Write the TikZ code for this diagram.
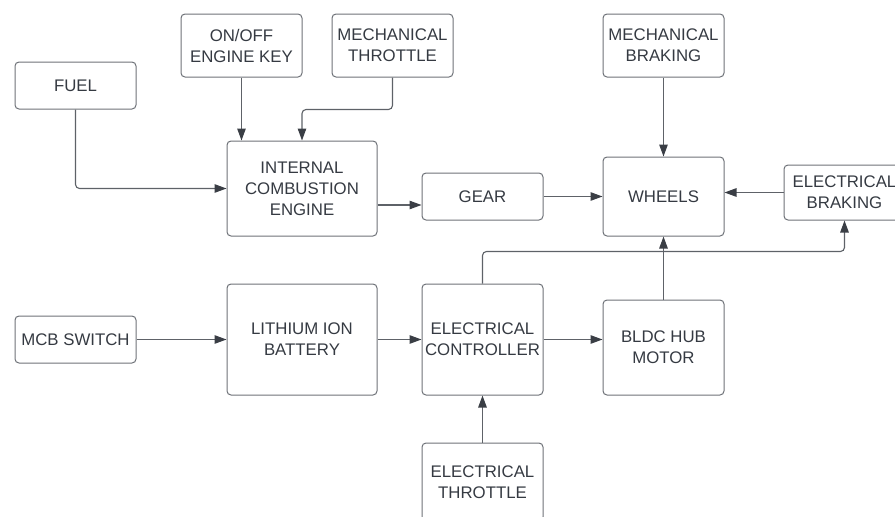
\documentclass[tikz,border=0pt]{standalone}
\usepackage{fontspec}
\setmainfont{Liberation Sans}
\usetikzlibrary{arrows.meta}
\definecolor{boxline}{HTML}{6E7278}
\definecolor{wire}{HTML}{5E6268}
\definecolor{tipc}{HTML}{3A3E45}
\definecolor{txt}{HTML}{353A42}
\tikzset{
  blk/.style={draw=boxline, line width=1pt, rounded corners=4pt, align=center,
    text=txt, inner sep=0pt, font=\fontsize{16.8}{21}\selectfont},
  arr/.style={draw=wire, line width=1.1pt, rounded corners=4pt,
    -{Triangle[length=12pt,width=8.5pt,color=tipc]}}
}
\begin{document}
\begin{tikzpicture}[x=1pt,y=-1pt]
\useasboundingbox (0,0) rectangle (895,517);
\node[blk, minimum width=121pt, minimum height=47pt] (fuel) at (75.5,85.5) {FUEL};
\node[blk, minimum width=121pt, minimum height=63pt] (onoff) at (241.5,45.5) {ON/OFF\\ENGINE KEY};
\node[blk, minimum width=121pt, minimum height=63pt] (mthr) at (392.5,45.5) {MECHANICAL\\THROTTLE};
\node[blk, minimum width=150pt, minimum height=95pt] (ice) at (302,188.5) {INTERNAL\\COMBUSTION\\ENGINE};
\node[blk, minimum width=121pt, minimum height=47pt] (gear) at (482.5,196.5) {GEAR};
\node[blk, minimum width=121pt, minimum height=79pt] (wheels) at (663.5,196.5) {WHEELS};
\node[blk, minimum width=121pt, minimum height=63pt] (mbrk) at (663.5,45.5) {MECHANICAL\\BRAKING};
\node[blk, minimum width=121pt, minimum height=55pt] (ebrk) at (844.5,192.5) {ELECTRICAL\\BRAKING};
\node[blk, minimum width=121pt, minimum height=47pt] (mcb) at (75.5,339.5) {MCB SWITCH};
\node[blk, minimum width=150pt, minimum height=111pt] (bat) at (302,339.5) {LITHIUM ION\\BATTERY};
\node[blk, minimum width=121pt, minimum height=111pt] (ctrl) at (482.5,339.5) {ELECTRICAL\\CONTROLLER};
\node[blk, minimum width=121pt, minimum height=95pt] (bldc) at (663.5,347.5) {BLDC HUB\\MOTOR};
\node[blk, minimum width=121pt, minimum height=78pt] (ethr) at (482.5,482) {ELECTRICAL\\THROTTLE};
\coordinate (icex) at ([yshift=-16.5pt]ice.east);
\draw[arr] (fuel.south) |- (ice.west);
\draw[arr] (onoff.south) -- (onoff.south |- ice.north);
\draw[arr] (mthr.south) -- ++(0,32) -| (ice.north);
\draw[arr] (icex) -- (icex -| gear.west);
\draw[arr] (gear.east) -- (wheels.west);
\draw[arr] (mbrk.south) -- (wheels.north);
\draw[arr] (ebrk.west) -- (ebrk.west -| wheels.east);
\draw[arr] (ctrl.north) -- ++(0,-32) -| (ebrk.south);
\draw[arr] (bldc.north) -- (wheels.south);
\draw[arr] (mcb.east) -- (bat.west);
\draw[arr] (bat.east) -- (ctrl.west);
\draw[arr] (ctrl.east) -- (ctrl.east -| bldc.west);
\draw[arr] (ethr.north) -- (ctrl.south);
\end{tikzpicture}
\end{document}
